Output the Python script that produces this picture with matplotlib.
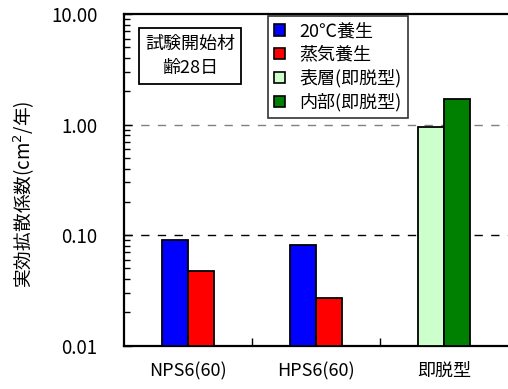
import matplotlib
matplotlib.use("Agg")
import matplotlib.pyplot as plt
from matplotlib.ticker import LogLocator, NullFormatter, FixedLocator
from matplotlib.patches import Patch

plt.rcParams['font.family'] = ['Noto Sans CJK JP', 'DejaVu Sans']

categories = ["NPS6(60)", "HPS6(60)", "即脱型"]
series_names = ["20℃養生", "蒸気養生", "表層(即脱型)", "内部(即脱型)"]
cure_20c = [0.090, 0.081]
cure_steam = [0.0475, 0.0267]
surface_layer = [0.945]
inner_layer = [1.71]
ytick_labels = ["0.01", "0.10", "1.00", "10.00"]
ytick_values = [0.01, 0.1, 1.0, 10.0]

colors = ["#0000ff", "#ff0000", "#ccffcc", "#008000"]

base = 0.01  # bars rise from the bottom of the log axis


def heights(values):
    return [v - base for v in values]


fig = plt.figure(figsize=(5.08, 3.89), dpi=100)
ax = fig.add_axes([124/508, 1-345.6/389, 1-124/508, (345.6-14)/389])

w = 0.2
bar_kw = dict(width=w, bottom=base, edgecolor="black", linewidth=1.3, zorder=3)
ax.bar([0 - w/2, 1 - w/2], heights(cure_20c), color=colors[0], **bar_kw)
ax.bar([0 + w/2, 1 + w/2], heights(cure_steam), color=colors[1], **bar_kw)
ax.bar([2 - w/2], heights(surface_layer), color=colors[2], **bar_kw)
ax.bar([2 + w/2], heights(inner_layer), color=colors[3], **bar_kw)

ax.set_yscale("log")
ax.set_ylim(0.01, 10)
ax.set_xlim(-0.5, 2.5)
ax.yaxis.set_major_locator(FixedLocator(ytick_values))
ax.set_yticklabels(ytick_labels)
ax.yaxis.set_minor_locator(LogLocator(base=10, subs=range(2, 10)))
ax.yaxis.set_minor_formatter(NullFormatter())
ax.tick_params(axis="y", which="major", direction="in", length=6, width=1,
               labelsize=13.5, pad=19)
ax.tick_params(axis="y", which="minor", direction="in", length=4, width=1)

# category boundaries marked with ticks, labels at centres
ax.set_xticks([0.5, 1.5], minor=False)
ax.set_xticklabels(["", ""])
ax.tick_params(axis="x", which="major", direction="in", length=6, width=1)
ax.set_xticks([0, 1, 2], minor=True)
ax.set_xticklabels(categories, minor=True, fontsize=13)
ax.tick_params(axis="x", which="minor", length=0, pad=12)

ax.axhline(1.0, color="#808080", linestyle=(0, (6, 6)), linewidth=1, zorder=1)
ax.axhline(0.1, color="black", linestyle=(0, (6, 6)), linewidth=1, zorder=1)

for s in ["left", "bottom", "top"]:
    ax.spines[s].set_linewidth(1.6)
ax.spines["right"].set_visible(False)

ax.set_ylabel("実効拡散係数(cm$^2$/年)", fontsize=13.5)
ax.yaxis.set_label_coords(37/508, 0.5, transform=fig.transFigure)

fig.text(190/508, 1-56/389, "試験開始材\n齢28日", ha="center", va="center",
         fontsize=13, linespacing=1.5,
         bbox=dict(boxstyle="square,pad=0.35", fc="white", ec="black", lw=1.3))

handles = [Patch(facecolor=c, edgecolor="black", linewidth=1.2) for c in colors]
leg = ax.legend(handles, series_names, loc="upper left",
                bbox_to_anchor=(268/508, 1-16/389), bbox_transform=fig.transFigure,
                fontsize=13, frameon=True, fancybox=False, edgecolor="black",
                handlelength=0.6, handleheight=0.6, handletextpad=0.8,
                labelspacing=0.3, borderpad=0.35, borderaxespad=0)
leg.get_frame().set_linewidth(1.2)

fig.savefig("out.png", dpi=100)
